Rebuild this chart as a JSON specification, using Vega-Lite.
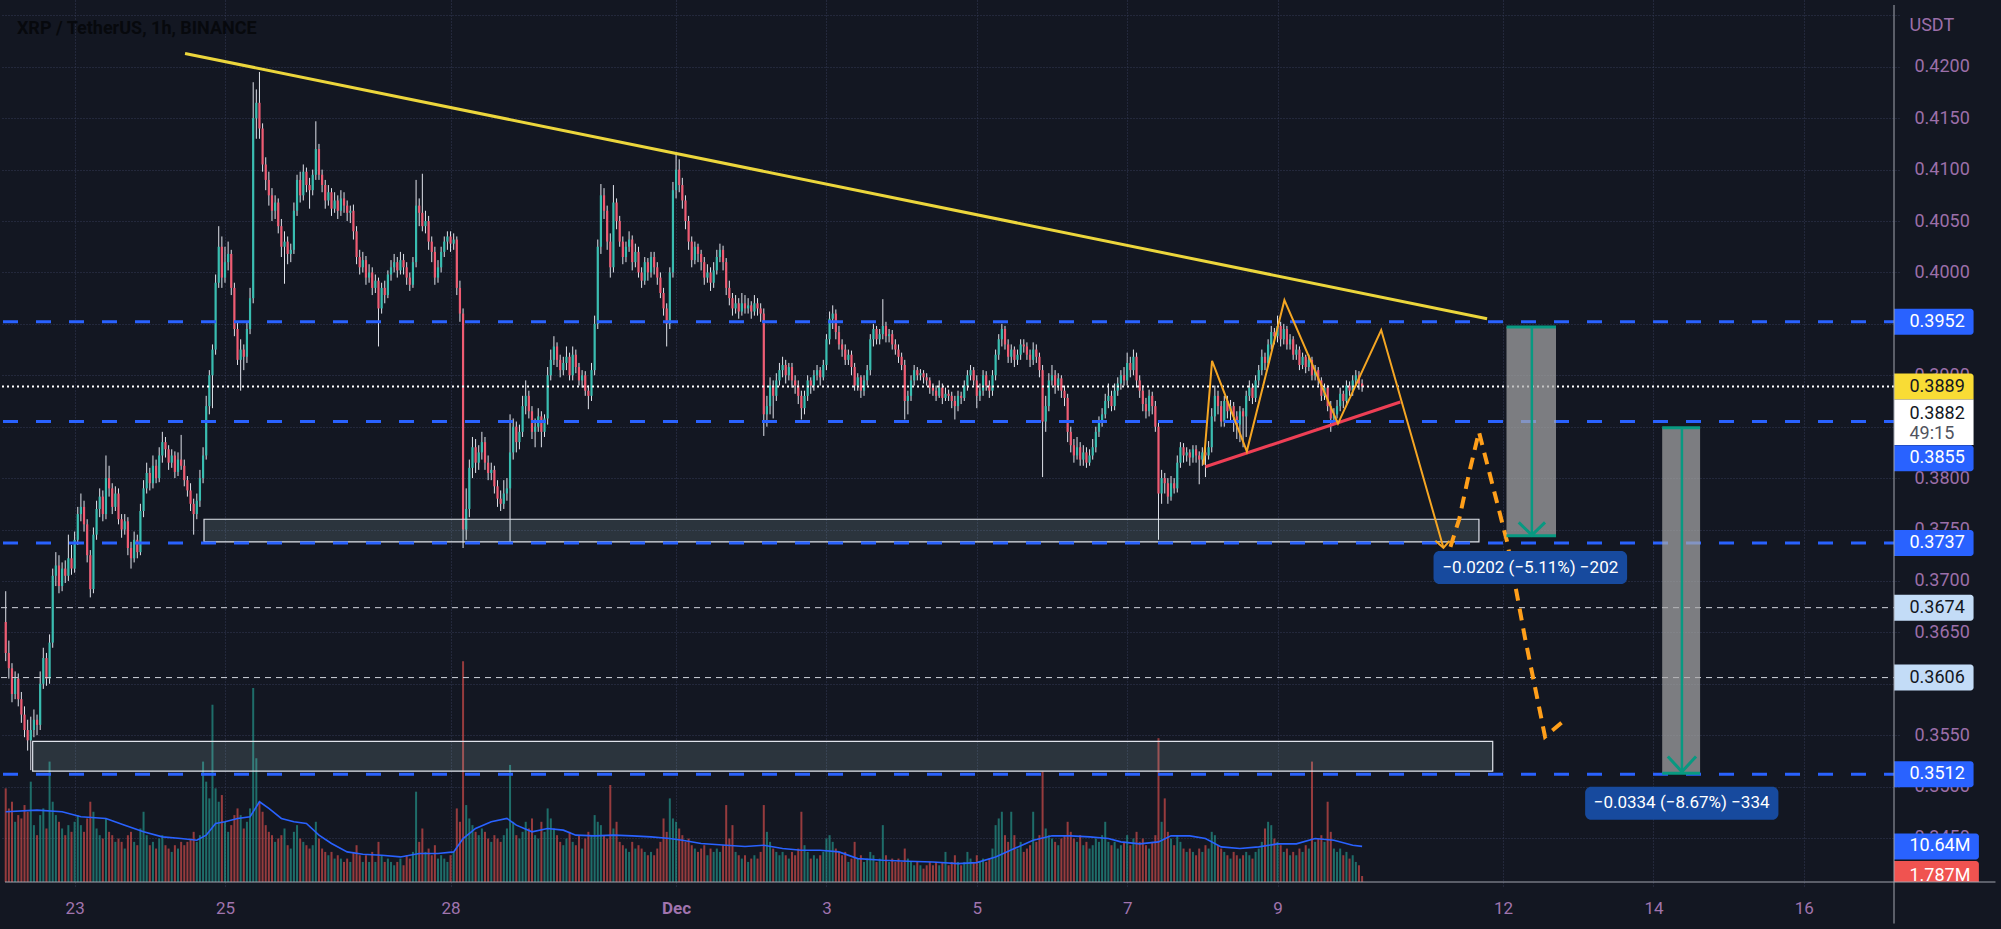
{
"$schema": "https://vega.github.io/schema/vega-lite/v6.json",
"width": 1899, "height": 887,
"autosize": {"type": "none"},
"padding": {"left": 0, "top": 0, "right": 102, "bottom": 42},
"background": "#131722",
"config": {"view": {"stroke": null}, "font": "Roboto"},
"datasets": {
"c": [
{"t":2,"o":3660,"h":3690,"l":3622,"c":3630,"v":28},{"t":3,"o":3630,"h":3642,"l":3605,"c":3615,"v":22},{"t":4,"o":3615,"h":3620,"l":3582,"c":3590,"v":24},{"t":5,"o":3590,"h":3612,"l":3585,"c":3605,"v":18},{"t":6,"o":3605,"h":3610,"l":3578,"c":3585,"v":20},{"t":7,"o":3585,"h":3592,"l":3562,"c":3570,"v":19},{"t":8,"o":3570,"h":3578,"l":3548,"c":3555,"v":23},{"t":9,"o":3555,"h":3565,"l":3535,"c":3545,"v":21},{"t":10,"o":3545,"h":3568,"l":3516,"c":3555,"v":30},{"t":11,"o":3555,"h":3575,"l":3548,"c":3565,"v":17},{"t":12,"o":3565,"h":3570,"l":3550,"c":3560,"v":14},{"t":13,"o":3560,"h":3612,"l":3555,"c":3600,"v":20},{"t":14,"o":3600,"h":3635,"l":3595,"c":3625,"v":22},{"t":15,"o":3625,"h":3630,"l":3598,"c":3605,"v":16},{"t":16,"o":3605,"h":3648,"l":3600,"c":3640,"v":36},{"t":17,"o":3640,"h":3712,"l":3635,"c":3705,"v":24},{"t":18,"o":3705,"h":3728,"l":3695,"c":3715,"v":20},{"t":19,"o":3715,"h":3725,"l":3688,"c":3695,"v":18},{"t":20,"o":3695,"h":3718,"l":3690,"c":3712,"v":16},{"t":21,"o":3712,"h":3720,"l":3698,"c":3705,"v":14},{"t":22,"o":3705,"h":3745,"l":3700,"c":3722,"v":17},{"t":23,"o":3722,"h":3735,"l":3706,"c":3712,"v":15},
{"t":24,"o":3712,"h":3748,"l":3708,"c":3740,"v":18},{"t":25,"o":3740,"h":3772,"l":3735,"c":3765,"v":20},{"t":26,"o":3765,"h":3785,"l":3758,"c":3772,"v":17},{"t":27,"o":3772,"h":3778,"l":3748,"c":3755,"v":15},{"t":28,"o":3755,"h":3760,"l":3718,"c":3725,"v":19},{"t":29,"o":3725,"h":3730,"l":3684,"c":3692,"v":24},{"t":30,"o":3692,"h":3752,"l":3688,"c":3745,"v":21},{"t":31,"o":3745,"h":3778,"l":3740,"c":3770,"v":16},{"t":32,"o":3770,"h":3790,"l":3762,"c":3782,"v":14},{"t":33,"o":3782,"h":3788,"l":3758,"c":3765,"v":13},{"t":34,"o":3765,"h":3822,"l":3760,"c":3800,"v":19},{"t":35,"o":3800,"h":3812,"l":3782,"c":3790,"v":15},{"t":36,"o":3790,"h":3795,"l":3765,"c":3772,"v":14},{"t":37,"o":3772,"h":3792,"l":3768,"c":3785,"v":12},{"t":38,"o":3785,"h":3790,"l":3755,"c":3760,"v":13},{"t":39,"o":3760,"h":3765,"l":3742,"c":3750,"v":12},{"t":40,"o":3750,"h":3765,"l":3745,"c":3758,"v":10},{"t":41,"o":3758,"h":3762,"l":3725,"c":3732,"v":14},{"t":42,"o":3732,"h":3738,"l":3712,"c":3722,"v":15},{"t":43,"o":3722,"h":3748,"l":3718,"c":3740,"v":12},{"t":44,"o":3740,"h":3745,"l":3722,"c":3728,"v":11},{"t":45,"o":3728,"h":3775,"l":3725,"c":3768,"v":16},{"t":46,"o":3768,"h":3798,"l":3762,"c":3790,"v":21},{"t":47,"o":3790,"h":3815,"l":3785,"c":3805,"v":14},
{"t":48,"o":3805,"h":3810,"l":3788,"c":3795,"v":11},{"t":49,"o":3795,"h":3822,"l":3790,"c":3812,"v":12},{"t":50,"o":3812,"h":3818,"l":3795,"c":3800,"v":10},{"t":51,"o":3800,"h":3830,"l":3796,"c":3822,"v":13},{"t":52,"o":3822,"h":3845,"l":3815,"c":3835,"v":14},{"t":53,"o":3835,"h":3840,"l":3820,"c":3828,"v":11},{"t":54,"o":3828,"h":3832,"l":3808,"c":3815,"v":10},{"t":55,"o":3815,"h":3828,"l":3810,"c":3822,"v":9},{"t":56,"o":3822,"h":3826,"l":3800,"c":3806,"v":11},{"t":57,"o":3806,"h":3825,"l":3802,"c":3818,"v":10},{"t":58,"o":3818,"h":3842,"l":3808,"c":3812,"v":12},{"t":59,"o":3812,"h":3818,"l":3792,"c":3798,"v":11},{"t":60,"o":3798,"h":3802,"l":3782,"c":3788,"v":12},{"t":61,"o":3788,"h":3795,"l":3768,"c":3775,"v":13},{"t":62,"o":3775,"h":3780,"l":3745,"c":3765,"v":15},{"t":63,"o":3765,"h":3785,"l":3760,"c":3778,"v":12},{"t":64,"o":3778,"h":3808,"l":3772,"c":3800,"v":14},{"t":65,"o":3800,"h":3830,"l":3795,"c":3822,"v":36},{"t":66,"o":3822,"h":3880,"l":3818,"c":3870,"v":30},{"t":67,"o":3870,"h":3905,"l":3862,"c":3900,"v":25},{"t":68,"o":3900,"h":3930,"l":3868,"c":3925,"v":53},{"t":69,"o":3925,"h":3998,"l":3920,"c":3990,"v":28},{"t":70,"o":3990,"h":4045,"l":3985,"c":4025,"v":24},{"t":71,"o":4025,"h":4035,"l":3985,"c":3995,"v":26},
{"t":72,"o":3995,"h":4025,"l":3990,"c":4010,"v":18},{"t":73,"o":4010,"h":4030,"l":4002,"c":4018,"v":15},{"t":74,"o":4018,"h":4022,"l":3978,"c":3985,"v":17},{"t":75,"o":3985,"h":3990,"l":3938,"c":3945,"v":20},{"t":76,"o":3945,"h":3952,"l":3910,"c":3915,"v":22},{"t":77,"o":3915,"h":3935,"l":3885,"c":3925,"v":20},{"t":78,"o":3925,"h":3930,"l":3905,"c":3918,"v":16},{"t":79,"o":3918,"h":3952,"l":3912,"c":3945,"v":18},{"t":80,"o":3945,"h":3985,"l":3940,"c":3975,"v":22},{"t":81,"o":3975,"h":4185,"l":3970,"c":4150,"v":58},{"t":82,"o":4150,"h":4178,"l":4130,"c":4165,"v":37},{"t":83,"o":4165,"h":4195,"l":4130,"c":4140,"v":24},{"t":84,"o":4140,"h":4145,"l":4098,"c":4105,"v":21},{"t":85,"o":4105,"h":4112,"l":4080,"c":4090,"v":17},{"t":86,"o":4090,"h":4098,"l":4065,"c":4075,"v":15},{"t":87,"o":4075,"h":4082,"l":4050,"c":4060,"v":14},{"t":88,"o":4060,"h":4075,"l":4052,"c":4068,"v":12},{"t":89,"o":4068,"h":4072,"l":4038,"c":4045,"v":13},{"t":90,"o":4045,"h":4052,"l":4015,"c":4025,"v":14},{"t":91,"o":4025,"h":4040,"l":3989,"c":4030,"v":16},{"t":92,"o":4030,"h":4035,"l":4008,"c":4018,"v":11},{"t":93,"o":4018,"h":4028,"l":4010,"c":4022,"v":10},{"t":94,"o":4022,"h":4068,"l":4018,"c":4060,"v":15},{"t":95,"o":4060,"h":4095,"l":4055,"c":4090,"v":17},
{"t":96,"o":4090,"h":4098,"l":4068,"c":4075,"v":13},{"t":97,"o":4075,"h":4105,"l":4070,"c":4098,"v":12},{"t":98,"o":4098,"h":4102,"l":4078,"c":4085,"v":11},{"t":99,"o":4085,"h":4092,"l":4062,"c":4080,"v":10},{"t":100,"o":4080,"h":4100,"l":4075,"c":4095,"v":11},{"t":101,"o":4095,"h":4147,"l":4090,"c":4120,"v":18},{"t":102,"o":4120,"h":4125,"l":4090,"c":4095,"v":13},{"t":103,"o":4095,"h":4100,"l":4078,"c":4085,"v":10},{"t":104,"o":4085,"h":4090,"l":4062,"c":4070,"v":9},{"t":105,"o":4070,"h":4085,"l":4065,"c":4078,"v":8},{"t":106,"o":4078,"h":4082,"l":4055,"c":4062,"v":9},{"t":107,"o":4062,"h":4078,"l":4058,"c":4070,"v":7},{"t":108,"o":4070,"h":4075,"l":4052,"c":4060,"v":8},{"t":109,"o":4060,"h":4080,"l":4055,"c":4072,"v":7},{"t":110,"o":4072,"h":4078,"l":4058,"c":4065,"v":6},{"t":111,"o":4065,"h":4070,"l":4050,"c":4058,"v":7},{"t":112,"o":4058,"h":4065,"l":4048,"c":4060,"v":6},{"t":113,"o":4060,"h":4066,"l":4032,"c":4040,"v":9},{"t":114,"o":4040,"h":4045,"l":4008,"c":4015,"v":11},{"t":115,"o":4015,"h":4022,"l":3998,"c":4005,"v":8},{"t":116,"o":4005,"h":4020,"l":4000,"c":4012,"v":6},{"t":117,"o":4012,"h":4016,"l":3988,"c":3995,"v":8},{"t":118,"o":3995,"h":4008,"l":3990,"c":4000,"v":6},{"t":119,"o":4000,"h":4005,"l":3978,"c":3985,"v":9},
{"t":120,"o":3985,"h":3998,"l":3980,"c":3992,"v":6},{"t":121,"o":3992,"h":3995,"l":3928,"c":3965,"v":12},{"t":122,"o":3965,"h":3990,"l":3960,"c":3985,"v":8},{"t":123,"o":3985,"h":3992,"l":3970,"c":3978,"v":6},{"t":124,"o":3978,"h":4002,"l":3975,"c":3998,"v":7},{"t":125,"o":3998,"h":4012,"l":3992,"c":4005,"v":6},{"t":126,"o":4005,"h":4018,"l":4000,"c":4010,"v":5},{"t":127,"o":4010,"h":4015,"l":3995,"c":4002,"v":6},{"t":128,"o":4002,"h":4020,"l":3998,"c":4012,"v":7},{"t":129,"o":4012,"h":4018,"l":3998,"c":4005,"v":5},{"t":130,"o":4005,"h":4010,"l":3988,"c":3995,"v":8},{"t":131,"o":3995,"h":4000,"l":3982,"c":3988,"v":7},{"t":132,"o":3988,"h":4015,"l":3985,"c":4010,"v":9},{"t":133,"o":4010,"h":4090,"l":4005,"c":4065,"v":27},{"t":134,"o":4065,"h":4072,"l":4045,"c":4058,"v":12},{"t":135,"o":4058,"h":4096,"l":4040,"c":4045,"v":16},{"t":136,"o":4045,"h":4060,"l":4038,"c":4050,"v":9},{"t":137,"o":4050,"h":4055,"l":4022,"c":4030,"v":10},{"t":138,"o":4030,"h":4035,"l":4010,"c":4020,"v":8},{"t":139,"o":4020,"h":4025,"l":3988,"c":3995,"v":11},{"t":140,"o":3995,"h":4012,"l":3990,"c":4005,"v":7},{"t":141,"o":4005,"h":4025,"l":4000,"c":4020,"v":8},{"t":142,"o":4020,"h":4035,"l":4015,"c":4030,"v":7},{"t":143,"o":4030,"h":4040,"l":4022,"c":4035,"v":6},
{"t":144,"o":4035,"h":4040,"l":4020,"c":4028,"v":8},{"t":145,"o":4028,"h":4038,"l":4022,"c":4032,"v":9},{"t":146,"o":4032,"h":4035,"l":3978,"c":3985,"v":22},{"t":147,"o":3985,"h":3992,"l":3952,"c":3960,"v":18},{"t":148,"o":3960,"h":3965,"l":3732,"c":3750,"v":66},{"t":149,"o":3750,"h":3790,"l":3740,"c":3770,"v":23},{"t":150,"o":3770,"h":3818,"l":3762,"c":3810,"v":19},{"t":151,"o":3810,"h":3840,"l":3800,"c":3830,"v":17},{"t":152,"o":3830,"h":3838,"l":3805,"c":3815,"v":15},{"t":153,"o":3815,"h":3832,"l":3808,"c":3825,"v":14},{"t":154,"o":3825,"h":3845,"l":3818,"c":3835,"v":16},{"t":155,"o":3835,"h":3840,"l":3808,"c":3815,"v":15},{"t":156,"o":3815,"h":3822,"l":3798,"c":3805,"v":13},{"t":157,"o":3805,"h":3815,"l":3798,"c":3808,"v":12},{"t":158,"o":3808,"h":3812,"l":3785,"c":3792,"v":14},{"t":159,"o":3792,"h":3798,"l":3772,"c":3780,"v":13},{"t":160,"o":3780,"h":3788,"l":3768,"c":3775,"v":12},{"t":161,"o":3775,"h":3798,"l":3770,"c":3785,"v":14},{"t":162,"o":3785,"h":3800,"l":3778,"c":3790,"v":16},{"t":163,"o":3790,"h":3862,"l":3737,"c":3825,"v":35},{"t":164,"o":3825,"h":3858,"l":3818,"c":3850,"v":18},{"t":165,"o":3850,"h":3855,"l":3825,"c":3835,"v":14},{"t":166,"o":3835,"h":3852,"l":3828,"c":3845,"v":13},{"t":167,"o":3845,"h":3880,"l":3840,"c":3870,"v":15},
{"t":168,"o":3870,"h":3895,"l":3862,"c":3880,"v":18},{"t":169,"o":3880,"h":3885,"l":3858,"c":3865,"v":16},{"t":170,"o":3865,"h":3870,"l":3838,"c":3845,"v":19},{"t":171,"o":3845,"h":3858,"l":3830,"c":3850,"v":14},{"t":172,"o":3850,"h":3868,"l":3845,"c":3860,"v":13},{"t":173,"o":3860,"h":3865,"l":3830,"c":3845,"v":18},{"t":174,"o":3845,"h":3862,"l":3840,"c":3858,"v":15},{"t":175,"o":3858,"h":3908,"l":3852,"c":3900,"v":22},{"t":176,"o":3900,"h":3925,"l":3895,"c":3915,"v":19},{"t":177,"o":3915,"h":3938,"l":3910,"c":3928,"v":16},{"t":178,"o":3928,"h":3932,"l":3908,"c":3915,"v":14},{"t":179,"o":3915,"h":3920,"l":3898,"c":3905,"v":12},{"t":180,"o":3905,"h":3918,"l":3900,"c":3912,"v":11},{"t":181,"o":3912,"h":3928,"l":3905,"c":3918,"v":13},{"t":182,"o":3918,"h":3922,"l":3895,"c":3900,"v":15},{"t":183,"o":3900,"h":3928,"l":3895,"c":3920,"v":12},{"t":184,"o":3920,"h":3925,"l":3902,"c":3908,"v":11},{"t":185,"o":3908,"h":3912,"l":3890,"c":3895,"v":14},{"t":186,"o":3895,"h":3905,"l":3888,"c":3900,"v":10},{"t":187,"o":3900,"h":3904,"l":3880,"c":3885,"v":13},{"t":188,"o":3885,"h":3890,"l":3867,"c":3880,"v":15},{"t":189,"o":3880,"h":3912,"l":3875,"c":3905,"v":14},{"t":190,"o":3905,"h":3958,"l":3900,"c":3950,"v":20},{"t":191,"o":3950,"h":4032,"l":3945,"c":4025,"v":18},
{"t":192,"o":4025,"h":4086,"l":4018,"c":4075,"v":17},{"t":193,"o":4075,"h":4082,"l":4052,"c":4060,"v":14},{"t":194,"o":4060,"h":4065,"l":4022,"c":4030,"v":13},{"t":195,"o":4030,"h":4038,"l":3995,"c":4005,"v":29},{"t":196,"o":4005,"h":4085,"l":4000,"c":4068,"v":16},{"t":197,"o":4068,"h":4072,"l":4042,"c":4050,"v":18},{"t":198,"o":4050,"h":4055,"l":4025,"c":4030,"v":12},{"t":199,"o":4030,"h":4035,"l":4008,"c":4015,"v":11},{"t":200,"o":4015,"h":4030,"l":4010,"c":4025,"v":10},{"t":201,"o":4025,"h":4040,"l":4020,"c":4032,"v":9},{"t":202,"o":4032,"h":4036,"l":4002,"c":4010,"v":12},{"t":203,"o":4010,"h":4028,"l":4005,"c":4020,"v":10},{"t":204,"o":4020,"h":4025,"l":3995,"c":4000,"v":11},{"t":205,"o":4000,"h":4005,"l":3985,"c":3992,"v":10},{"t":206,"o":3992,"h":4015,"l":3988,"c":4010,"v":9},{"t":207,"o":4010,"h":4014,"l":3992,"c":4000,"v":8},{"t":208,"o":4000,"h":4020,"l":3995,"c":4015,"v":9},{"t":209,"o":4015,"h":4020,"l":3998,"c":4005,"v":8},{"t":210,"o":4005,"h":4010,"l":3988,"c":3995,"v":10},{"t":211,"o":3995,"h":4000,"l":3975,"c":3980,"v":12},{"t":212,"o":3980,"h":3985,"l":3958,"c":3965,"v":19},{"t":213,"o":3965,"h":3970,"l":3928,"c":3950,"v":15},{"t":214,"o":3950,"h":4005,"l":3945,"c":4000,"v":25},{"t":215,"o":4000,"h":4088,"l":3995,"c":4080,"v":19},
{"t":216,"o":4080,"h":4117,"l":4072,"c":4100,"v":18},{"t":217,"o":4100,"h":4110,"l":4078,"c":4085,"v":16},{"t":218,"o":4085,"h":4092,"l":4062,"c":4070,"v":14},{"t":219,"o":4070,"h":4075,"l":4042,"c":4050,"v":12},{"t":220,"o":4050,"h":4055,"l":4022,"c":4030,"v":13},{"t":221,"o":4030,"h":4035,"l":4005,"c":4012,"v":11},{"t":222,"o":4012,"h":4030,"l":4008,"c":4025,"v":10},{"t":223,"o":4025,"h":4028,"l":4010,"c":4018,"v":9},{"t":224,"o":4018,"h":4022,"l":4002,"c":4010,"v":10},{"t":225,"o":4010,"h":4015,"l":3988,"c":3995,"v":11},{"t":226,"o":3995,"h":4008,"l":3990,"c":4000,"v":8},{"t":227,"o":4000,"h":4005,"l":3982,"c":3990,"v":10},{"t":228,"o":3990,"h":4010,"l":3985,"c":4002,"v":9},{"t":229,"o":4002,"h":4022,"l":3998,"c":4015,"v":10},{"t":230,"o":4015,"h":4028,"l":4010,"c":4022,"v":9},{"t":231,"o":4022,"h":4026,"l":4002,"c":4010,"v":11},{"t":232,"o":4010,"h":4014,"l":3978,"c":3985,"v":23},{"t":233,"o":3985,"h":3992,"l":3968,"c":3975,"v":13},{"t":234,"o":3975,"h":3980,"l":3958,"c":3965,"v":17},{"t":235,"o":3965,"h":3978,"l":3960,"c":3970,"v":9},{"t":236,"o":3970,"h":3975,"l":3955,"c":3962,"v":8},{"t":237,"o":3962,"h":3980,"l":3958,"c":3970,"v":7},{"t":238,"o":3970,"h":3978,"l":3960,"c":3965,"v":8},{"t":239,"o":3965,"h":3975,"l":3960,"c":3968,"v":6},
{"t":240,"o":3968,"h":3972,"l":3955,"c":3962,"v":7},{"t":241,"o":3962,"h":3978,"l":3958,"c":3970,"v":8},{"t":242,"o":3970,"h":3975,"l":3958,"c":3965,"v":7},{"t":243,"o":3965,"h":3970,"l":3952,"c":3960,"v":9},{"t":244,"o":3960,"h":3965,"l":3841,"c":3862,"v":23},{"t":245,"o":3862,"h":3880,"l":3850,"c":3870,"v":15},{"t":246,"o":3870,"h":3898,"l":3862,"c":3890,"v":12},{"t":247,"o":3890,"h":3895,"l":3858,"c":3880,"v":10},{"t":248,"o":3880,"h":3902,"l":3875,"c":3895,"v":9},{"t":249,"o":3895,"h":3912,"l":3890,"c":3905,"v":8},{"t":250,"o":3905,"h":3918,"l":3898,"c":3910,"v":9},{"t":251,"o":3910,"h":3915,"l":3892,"c":3900,"v":8},{"t":252,"o":3900,"h":3912,"l":3895,"c":3908,"v":7},{"t":253,"o":3908,"h":3912,"l":3888,"c":3895,"v":9},{"t":254,"o":3895,"h":3900,"l":3882,"c":3890,"v":8},{"t":255,"o":3890,"h":3895,"l":3872,"c":3880,"v":10},{"t":256,"o":3880,"h":3885,"l":3857,"c":3868,"v":21},{"t":257,"o":3868,"h":3885,"l":3862,"c":3880,"v":11},{"t":258,"o":3880,"h":3900,"l":3875,"c":3895,"v":9},{"t":259,"o":3895,"h":3898,"l":3882,"c":3890,"v":7},{"t":260,"o":3890,"h":3905,"l":3885,"c":3900,"v":8},{"t":261,"o":3900,"h":3910,"l":3895,"c":3905,"v":7},{"t":262,"o":3905,"h":3908,"l":3890,"c":3898,"v":8},{"t":263,"o":3898,"h":3915,"l":3895,"c":3910,"v":9},
{"t":264,"o":3910,"h":3940,"l":3905,"c":3935,"v":13},{"t":265,"o":3935,"h":3962,"l":3930,"c":3955,"v":14},{"t":266,"o":3955,"h":3968,"l":3945,"c":3960,"v":12},{"t":267,"o":3960,"h":3964,"l":3935,"c":3942,"v":10},{"t":268,"o":3942,"h":3948,"l":3925,"c":3930,"v":9},{"t":269,"o":3930,"h":3935,"l":3918,"c":3925,"v":8},{"t":270,"o":3925,"h":3930,"l":3910,"c":3915,"v":9},{"t":271,"o":3915,"h":3925,"l":3910,"c":3920,"v":6},{"t":272,"o":3920,"h":3924,"l":3900,"c":3908,"v":7},{"t":273,"o":3908,"h":3912,"l":3885,"c":3890,"v":12},{"t":274,"o":3890,"h":3902,"l":3885,"c":3898,"v":7},{"t":275,"o":3898,"h":3900,"l":3878,"c":3885,"v":8},{"t":276,"o":3885,"h":3900,"l":3880,"c":3895,"v":6},{"t":277,"o":3895,"h":3910,"l":3890,"c":3905,"v":7},{"t":278,"o":3905,"h":3940,"l":3900,"c":3935,"v":9},{"t":279,"o":3935,"h":3950,"l":3928,"c":3945,"v":8},{"t":280,"o":3945,"h":3948,"l":3930,"c":3935,"v":6},{"t":281,"o":3935,"h":3945,"l":3930,"c":3940,"v":7},{"t":282,"o":3940,"h":3974,"l":3935,"c":3948,"v":17},{"t":283,"o":3948,"h":3952,"l":3932,"c":3938,"v":8},{"t":284,"o":3938,"h":3945,"l":3932,"c":3940,"v":6},{"t":285,"o":3940,"h":3944,"l":3925,"c":3930,"v":7},{"t":286,"o":3930,"h":3935,"l":3920,"c":3925,"v":6},{"t":287,"o":3925,"h":3930,"l":3912,"c":3918,"v":7},
{"t":288,"o":3918,"h":3922,"l":3905,"c":3910,"v":6},{"t":289,"o":3910,"h":3915,"l":3857,"c":3875,"v":10},{"t":290,"o":3875,"h":3885,"l":3862,"c":3880,"v":7},{"t":291,"o":3880,"h":3900,"l":3875,"c":3895,"v":6},{"t":292,"o":3895,"h":3910,"l":3890,"c":3905,"v":5},{"t":293,"o":3905,"h":3908,"l":3895,"c":3900,"v":6},{"t":294,"o":3900,"h":3906,"l":3895,"c":3902,"v":5},{"t":295,"o":3902,"h":3905,"l":3892,"c":3898,"v":4},{"t":296,"o":3898,"h":3902,"l":3890,"c":3895,"v":5},{"t":297,"o":3895,"h":3898,"l":3882,"c":3888,"v":6},{"t":298,"o":3888,"h":3892,"l":3880,"c":3885,"v":5},{"t":299,"o":3885,"h":3890,"l":3875,"c":3880,"v":6},{"t":300,"o":3880,"h":3895,"l":3878,"c":3888,"v":5},{"t":301,"o":3888,"h":3892,"l":3872,"c":3878,"v":6},{"t":302,"o":3878,"h":3888,"l":3875,"c":3882,"v":9},{"t":303,"o":3882,"h":3886,"l":3875,"c":3880,"v":5},{"t":304,"o":3880,"h":3884,"l":3868,"c":3875,"v":6},{"t":305,"o":3875,"h":3880,"l":3857,"c":3870,"v":8},{"t":306,"o":3870,"h":3885,"l":3865,"c":3880,"v":6},{"t":307,"o":3880,"h":3884,"l":3872,"c":3878,"v":5},{"t":308,"o":3878,"h":3895,"l":3875,"c":3890,"v":6},{"t":309,"o":3890,"h":3905,"l":3885,"c":3900,"v":9},{"t":310,"o":3900,"h":3910,"l":3895,"c":3905,"v":7},{"t":311,"o":3905,"h":3908,"l":3890,"c":3895,"v":6},
{"t":312,"o":3895,"h":3900,"l":3868,"c":3880,"v":8},{"t":313,"o":3880,"h":3892,"l":3875,"c":3885,"v":6},{"t":314,"o":3885,"h":3905,"l":3880,"c":3900,"v":7},{"t":315,"o":3900,"h":3904,"l":3885,"c":3890,"v":6},{"t":316,"o":3890,"h":3895,"l":3878,"c":3885,"v":7},{"t":317,"o":3885,"h":3905,"l":3880,"c":3900,"v":10},{"t":318,"o":3900,"h":3925,"l":3895,"c":3920,"v":17},{"t":319,"o":3920,"h":3940,"l":3915,"c":3935,"v":19},{"t":320,"o":3935,"h":3950,"l":3928,"c":3945,"v":21},{"t":321,"o":3945,"h":3948,"l":3925,"c":3930,"v":14},{"t":322,"o":3930,"h":3935,"l":3912,"c":3918,"v":12},{"t":323,"o":3918,"h":3930,"l":3912,"c":3925,"v":21},{"t":324,"o":3925,"h":3928,"l":3908,"c":3915,"v":14},{"t":325,"o":3915,"h":3925,"l":3910,"c":3920,"v":10},{"t":326,"o":3920,"h":3935,"l":3915,"c":3930,"v":12},{"t":327,"o":3930,"h":3935,"l":3922,"c":3928,"v":9},{"t":328,"o":3928,"h":3932,"l":3915,"c":3920,"v":10},{"t":329,"o":3920,"h":3925,"l":3908,"c":3915,"v":11},{"t":330,"o":3915,"h":3932,"l":3910,"c":3925,"v":21},{"t":331,"o":3925,"h":3930,"l":3912,"c":3918,"v":12},{"t":332,"o":3918,"h":3922,"l":3898,"c":3905,"v":14},{"t":333,"o":3905,"h":3910,"l":3801,"c":3855,"v":33},{"t":334,"o":3855,"h":3880,"l":3845,"c":3870,"v":16},{"t":335,"o":3870,"h":3902,"l":3865,"c":3895,"v":14},
{"t":336,"o":3895,"h":3910,"l":3890,"c":3900,"v":13},{"t":337,"o":3900,"h":3905,"l":3882,"c":3890,"v":12},{"t":338,"o":3890,"h":3902,"l":3885,"c":3897,"v":11},{"t":339,"o":3897,"h":3900,"l":3878,"c":3885,"v":13},{"t":340,"o":3885,"h":3890,"l":3870,"c":3878,"v":14},{"t":341,"o":3878,"h":3882,"l":3835,"c":3845,"v":18},{"t":342,"o":3845,"h":3850,"l":3825,"c":3832,"v":15},{"t":343,"o":3832,"h":3838,"l":3815,"c":3822,"v":13},{"t":344,"o":3822,"h":3840,"l":3818,"c":3830,"v":12},{"t":345,"o":3830,"h":3835,"l":3812,"c":3818,"v":14},{"t":346,"o":3818,"h":3832,"l":3812,"c":3825,"v":11},{"t":347,"o":3825,"h":3830,"l":3810,"c":3815,"v":12},{"t":348,"o":3815,"h":3828,"l":3812,"c":3822,"v":10},{"t":349,"o":3822,"h":3838,"l":3818,"c":3830,"v":11},{"t":350,"o":3830,"h":3850,"l":3825,"c":3845,"v":13},{"t":351,"o":3845,"h":3860,"l":3840,"c":3855,"v":12},{"t":352,"o":3855,"h":3868,"l":3850,"c":3862,"v":14},{"t":353,"o":3862,"h":3882,"l":3858,"c":3875,"v":18},{"t":354,"o":3875,"h":3892,"l":3868,"c":3880,"v":12},{"t":355,"o":3880,"h":3885,"l":3865,"c":3870,"v":11},{"t":356,"o":3870,"h":3892,"l":3866,"c":3885,"v":12},{"t":357,"o":3885,"h":3898,"l":3880,"c":3892,"v":10},{"t":358,"o":3892,"h":3905,"l":3886,"c":3900,"v":11},{"t":359,"o":3900,"h":3908,"l":3890,"c":3895,"v":12},
{"t":360,"o":3895,"h":3922,"l":3890,"c":3912,"v":14},{"t":361,"o":3912,"h":3918,"l":3898,"c":3905,"v":11},{"t":362,"o":3905,"h":3925,"l":3900,"c":3918,"v":13},{"t":363,"o":3918,"h":3922,"l":3888,"c":3895,"v":15},{"t":364,"o":3895,"h":3900,"l":3878,"c":3885,"v":12},{"t":365,"o":3885,"h":3890,"l":3865,"c":3872,"v":13},{"t":366,"o":3872,"h":3878,"l":3858,"c":3865,"v":11},{"t":367,"o":3865,"h":3886,"l":3860,"c":3880,"v":10},{"t":368,"o":3880,"h":3884,"l":3862,"c":3870,"v":12},{"t":369,"o":3870,"h":3875,"l":3845,"c":3850,"v":14},{"t":370,"o":3850,"h":3856,"l":3740,"c":3785,"v":43},{"t":371,"o":3785,"h":3808,"l":3775,"c":3800,"v":18},{"t":372,"o":3800,"h":3805,"l":3785,"c":3795,"v":25},{"t":373,"o":3795,"h":3800,"l":3775,"c":3782,"v":15},{"t":374,"o":3782,"h":3802,"l":3778,"c":3795,"v":13},{"t":375,"o":3795,"h":3800,"l":3785,"c":3790,"v":11},{"t":376,"o":3790,"h":3822,"l":3786,"c":3815,"v":14},{"t":377,"o":3815,"h":3835,"l":3810,"c":3830,"v":12},{"t":378,"o":3830,"h":3834,"l":3815,"c":3822,"v":10},{"t":379,"o":3822,"h":3830,"l":3816,"c":3825,"v":9},{"t":380,"o":3825,"h":3828,"l":3812,"c":3820,"v":10},{"t":381,"o":3820,"h":3832,"l":3815,"c":3828,"v":9},{"t":382,"o":3828,"h":3832,"l":3815,"c":3822,"v":8},{"t":383,"o":3822,"h":3826,"l":3794,"c":3818,"v":10},
{"t":384,"o":3818,"h":3830,"l":3812,"c":3825,"v":9},{"t":385,"o":3825,"h":3830,"l":3801,"c":3822,"v":11},{"t":386,"o":3822,"h":3836,"l":3818,"c":3830,"v":10},{"t":387,"o":3830,"h":3868,"l":3825,"c":3860,"v":15},{"t":388,"o":3860,"h":3890,"l":3855,"c":3880,"v":14},{"t":389,"o":3880,"h":3885,"l":3862,"c":3870,"v":11},{"t":390,"o":3870,"h":3875,"l":3850,"c":3855,"v":10},{"t":391,"o":3855,"h":3880,"l":3850,"c":3875,"v":9},{"t":392,"o":3875,"h":3880,"l":3858,"c":3865,"v":8},{"t":393,"o":3865,"h":3876,"l":3855,"c":3870,"v":7},{"t":394,"o":3870,"h":3874,"l":3845,"c":3860,"v":9},{"t":395,"o":3860,"h":3865,"l":3838,"c":3852,"v":8},{"t":396,"o":3852,"h":3870,"l":3835,"c":3865,"v":7},{"t":397,"o":3865,"h":3868,"l":3830,"c":3860,"v":8},{"t":398,"o":3860,"h":3885,"l":3840,"c":3880,"v":9},{"t":399,"o":3880,"h":3895,"l":3875,"c":3888,"v":8},{"t":400,"o":3888,"h":3892,"l":3872,"c":3878,"v":7},{"t":401,"o":3878,"h":3900,"l":3874,"c":3895,"v":9},{"t":402,"o":3895,"h":3910,"l":3890,"c":3905,"v":10},{"t":403,"o":3905,"h":3925,"l":3900,"c":3918,"v":12},{"t":404,"o":3918,"h":3922,"l":3905,"c":3912,"v":16},{"t":405,"o":3912,"h":3935,"l":3908,"c":3930,"v":18},{"t":406,"o":3930,"h":3948,"l":3925,"c":3942,"v":17},{"t":407,"o":3942,"h":3946,"l":3930,"c":3938,"v":13},
{"t":408,"o":3938,"h":3958,"l":3932,"c":3948,"v":12},{"t":409,"o":3948,"h":3952,"l":3928,"c":3935,"v":11},{"t":410,"o":3935,"h":3950,"l":3930,"c":3945,"v":9},{"t":411,"o":3945,"h":3948,"l":3925,"c":3930,"v":10},{"t":412,"o":3930,"h":3940,"l":3925,"c":3935,"v":8},{"t":413,"o":3935,"h":3938,"l":3915,"c":3920,"v":9},{"t":414,"o":3920,"h":3930,"l":3915,"c":3925,"v":8},{"t":415,"o":3925,"h":3928,"l":3905,"c":3910,"v":10},{"t":416,"o":3910,"h":3922,"l":3906,"c":3918,"v":9},{"t":417,"o":3918,"h":3920,"l":3902,"c":3908,"v":11},{"t":418,"o":3908,"h":3920,"l":3904,"c":3915,"v":10},{"t":419,"o":3915,"h":3918,"l":3895,"c":3900,"v":36},{"t":420,"o":3900,"h":3910,"l":3895,"c":3905,"v":12},{"t":421,"o":3905,"h":3908,"l":3890,"c":3895,"v":13},{"t":422,"o":3895,"h":3898,"l":3875,"c":3880,"v":14},{"t":423,"o":3880,"h":3892,"l":3876,"c":3888,"v":12},{"t":424,"o":3888,"h":3890,"l":3865,"c":3870,"v":24},{"t":425,"o":3870,"h":3875,"l":3845,"c":3858,"v":15},{"t":426,"o":3858,"h":3868,"l":3852,"c":3862,"v":10},{"t":427,"o":3862,"h":3876,"l":3858,"c":3870,"v":9},{"t":428,"o":3870,"h":3888,"l":3865,"c":3882,"v":10},{"t":429,"o":3882,"h":3885,"l":3868,"c":3875,"v":8},{"t":430,"o":3875,"h":3895,"l":3870,"c":3890,"v":9},{"t":431,"o":3890,"h":3894,"l":3880,"c":3885,"v":7},
{"t":432,"o":3885,"h":3900,"l":3880,"c":3895,"v":8},{"t":433,"o":3895,"h":3905,"l":3890,"c":3900,"v":6},{"t":434,"o":3900,"h":3904,"l":3886,"c":3892,"v":5},{"t":435,"o":3892,"h":3896,"l":3884,"c":3889,"v":1.787}
],
"ma": [{"t":2,"m":21},{"t":12,"m":21.5},{"t":20,"m":21},{"t":26,"m":19.5},{"t":34,"m":19},{"t":40,"m":17},{"t":46,"m":15},{"t":52,"m":13.5},{"t":58,"m":13},{"t":63,"m":12.5},{"t":66,"m":14},{"t":69,"m":17.5},{"t":72,"m":18},{"t":76,"m":19},{"t":80,"m":19.5},{"t":83,"m":24},{"t":86,"m":22},{"t":90,"m":19},{"t":94,"m":18},{"t":98,"m":17.5},{"t":102,"m":14},{"t":106,"m":11.5},{"t":111,"m":9},{"t":116,"m":8.3},{"t":122,"m":8},{"t":128,"m":7.5},{"t":134,"m":8.5},{"t":140,"m":8.5},{"t":145,"m":9},{"t":148,"m":13},{"t":152,"m":16},{"t":157,"m":18},{"t":162,"m":19},{"t":165,"m":17},{"t":170,"m":15},{"t":175,"m":16},{"t":180,"m":15.5},{"t":184,"m":14},{"t":190,"m":13.8},{"t":196,"m":14},{"t":202,"m":13.8},{"t":208,"m":13.5},{"t":214,"m":13},{"t":218,"m":12.5},{"t":224,"m":11.5},{"t":232,"m":11},{"t":238,"m":10.6},{"t":244,"m":11},{"t":250,"m":10},{"t":256,"m":9.5},{"t":262,"m":9.5},{"t":268,"m":9},{"t":274,"m":7},{"t":282,"m":6.5},{"t":290,"m":6.2},{"t":298,"m":6},{"t":306,"m":5.5},{"t":312,"m":5.8},{"t":318,"m":7.5},{"t":324,"m":10},{"t":330,"m":12.5},{"t":336,"m":13.8},{"t":342,"m":13.8},{"t":348,"m":13.5},{"t":354,"m":13},{"t":358,"m":12},{"t":364,"m":11.4},{"t":370,"m":12},{"t":374,"m":13.8},{"t":380,"m":13.8},{"t":385,"m":13},{"t":390,"m":10.5},{"t":396,"m":10},{"t":402,"m":10.5},{"t":408,"m":11.4},{"t":414,"m":11.4},{"t":420,"m":13},{"t":426,"m":12.5},{"t":432,"m":11},{"t":435,"m":10.64}]
},
"resolve": {"scale": {"y": "independent"}},
"layer": [
{
"layer": [
{"data": {"name": "c"}, "mark": {"type": "bar", "orient": "vertical", "width": 2, "opacity": 0.6},
 "encoding": {
  "x": {"field": "t", "type": "quantitative", "title": null, "scale": {"domain": [1.77, 604.8], "nice": false, "zero": false}},
  "y": {"field": "v", "type": "quantitative", "title": null, "axis": null, "scale": {"domain": [0, 262.2], "nice": false, "zero": true}},
  "color": {"condition": {"test": "datum.c >= datum.o", "value": "#26a69a"}, "value": "#ef5350"}}},
{"data": {"name": "ma"}, "mark": {"type": "line", "color": "#2962ff", "strokeWidth": 1.6},
 "encoding": {"x": {"field": "t", "type": "quantitative", "title": null}, "y": {"field": "m", "type": "quantitative", "title": null, "axis": null}}},
{"data": {"values": [{"m": 10.64, "lab": "10.64M"}]}, "mark": {"type": "bar", "orient": "horizontal", "height": 26, "color": "#2962ff", "cornerRadiusTopRight": 3, "cornerRadiusBottomRight": 3},
 "encoding": {"x": {"datum": 604.8}, "x2": {"datum": 631.9}, "y": {"field": "m", "type": "quantitative", "title": null, "axis": null}}},
{"data": {"values": [{"m": 1.787, "lab": "1.787M"}]}, "mark": {"type": "bar", "orient": "horizontal", "height": 21, "yOffset": -4.5, "color": "#f05350", "cornerRadiusTopRight": 3},
 "encoding": {"x": {"datum": 604.8}, "x2": {"datum": 631.9}, "y": {"field": "m", "type": "quantitative", "title": null, "axis": null}}},
{"data": {"values": [{"m": 10.64, "lab": "10.64M"}, {"m": 1.787, "lab": "1.787M"}]}, "mark": {"type": "text", "align": "left", "baseline": "middle", "fontSize": 18, "color": "#ffffff", "font": "Roboto"},
 "encoding": {"x": {"datum": 609.75}, "y": {"field": "m", "type": "quantitative", "title": null, "axis": null}, "yOffset": {"condition": {"test": "datum.m < 5", "value": -4}, "value": 0}, "text": {"field": "lab"}}}
]
},
{
"layer": [
{"data": {"name": "c"}, "mark": {"type": "rule", "color": "#dfe2ea", "strokeWidth": 1},
 "encoding": {
  "x": {"field": "t", "type": "quantitative", "title": null, "axis": {"values": [24,72,144,216,264,312,360,408,480,528,576], "labelExpr": "datum.value == 216 ? 'Dec' : (datum.value < 216 ? '' + (22 + datum.value/24) : '' + (datum.value/24 - 8))", "grid": true, "gridColor": "#343a55", "gridDash": [1,2], "gridWidth": 1, "domain": false, "ticks": false, "labelPadding": 13, "labelFontSize": 17, "labelColor": "#a074ae", "labelFont": "Roboto", "labelFlush": false, "labelOverlap": false, "labelFontWeight": {"condition": {"test": "datum.value == 216", "value": "bold"}, "value": "normal"}, "title": null}},
  "y": {"field": "l", "type": "quantitative", "title": null, "scale": {"domain": [3407.2, 4260.1], "nice": false, "zero": false}, "axis": {"orient": "right", "values": [3450,3500,3550,3600,3650,3700,3750,3800,3850,3900,3950,4000,4050,4100,4150,4200,4250], "labelExpr": "datum.value > 4220 ? '' : format(datum.value/10000, '.4f')", "grid": true, "gridColor": "#343a55", "gridDash": [1,2], "gridWidth": 1, "domain": false, "ticks": false, "labelPadding": 15, "labelFontSize": 18, "labelColor": "#9c6fa9", "labelFont": "Roboto", "labelAlign": "left", "labelBaseline": "middle", "labelOverlap": false, "title": null}},
  "y2": {"field": "h"}}},
{"data": {"name": "c"}, "mark": {"type": "bar", "orient": "vertical", "width": 2.2},
 "encoding": {"x": {"field": "t", "type": "quantitative"}, "y": {"field": "o", "type": "quantitative"}, "y2": {"field": "c"},
  "color": {"condition": {"test": "datum.c >= datum.o", "value": "#38bdb0"}, "value": "#ef5b72"}}},
{"data": {"values": [{"t": 65.3, "t2": 472.3, "p": 3738, "p2": 3760}, {"t": 10.6, "t2": 476.7, "p": 3515, "p2": 3544}]},
 "mark": {"type": "rect", "fill": "#b2dfdb", "fillOpacity": 0.15, "stroke": "#e0e3eb", "strokeWidth": 1.2},
 "encoding": {"x": {"field": "t", "type": "quantitative"}, "x2": {"field": "t2"}, "y": {"field": "p", "type": "quantitative"}, "y2": {"field": "p2"}}},
{"data": {"values": [{"p": 3952}, {"p": 3855}, {"p": 3737}, {"p": 3512}]}, "mark": {"type": "rule", "color": "#2962ff", "strokeWidth": 3, "strokeDash": [15, 18]},
 "encoding": {"y": {"field": "p", "type": "quantitative"}}},
{"data": {"values": [{"p": 3889}]}, "mark": {"type": "rule", "color": "#ffffff", "strokeWidth": 2, "strokeDash": [2, 3]},
 "encoding": {"y": {"field": "p", "type": "quantitative"}}},
{"data": {"values": [{"p": 3674}, {"p": 3606}]}, "mark": {"type": "rule", "color": "#d1d4dc", "strokeWidth": 1, "strokeDash": [6, 5]},
 "encoding": {"y": {"field": "p", "type": "quantitative"}}},
{"data": {"values": [{"t": 59.25, "p": 4213}, {"t": 474.9, "p": 3955}]}, "mark": {"type": "line", "color": "#ecd63c", "strokeWidth": 3},
 "encoding": {"x": {"field": "t", "type": "quantitative"}, "y": {"field": "p", "type": "quantitative"}}},
{"data": {"values": [{"t": 384.96, "p": 3811}, {"t": 447.2, "p": 3874}]}, "mark": {"type": "line", "color": "#ee3f55", "strokeWidth": 3},
 "encoding": {"x": {"field": "t", "type": "quantitative"}, "y": {"field": "p", "type": "quantitative"}}},
{"data": {"values": [{"i": 1, "t": 384.4, "p": 3813}, {"i": 2, "t": 387.1, "p": 3914}, {"i": 3, "t": 398.2, "p": 3826}, {"i": 4, "t": 410.2, "p": 3973}, {"i": 5, "t": 427.3, "p": 3853}, {"i": 6, "t": 441.1, "p": 3944}, {"i": 7, "t": 460.96, "p": 3732.2}]},
 "mark": {"type": "line", "color": "#f5a623", "strokeWidth": 2},
 "encoding": {"x": {"field": "t", "type": "quantitative"}, "y": {"field": "p", "type": "quantitative"}, "order": {"field": "i"}}},
{"data": {"values": [{"i": 1, "t": 458.4, "p": 3739}, {"i": 2, "t": 460.96, "p": 3732.2}, {"i": 3, "t": 462.9, "p": 3739}]},
 "mark": {"type": "line", "color": "#f5a623", "strokeWidth": 2},
 "encoding": {"x": {"field": "t", "type": "quantitative"}, "y": {"field": "p", "type": "quantitative"}, "order": {"field": "i"}}},
{"data": {"values": [{"i": 1, "t": 463.2, "p": 3733.2}, {"i": 2, "t": 466.0, "p": 3760.1}, {"i": 3, "t": 469.2, "p": 3805.3}, {"i": 4, "t": 472.3, "p": 3845.0}, {"i": 5, "t": 481.3, "p": 3738.0}, {"i": 6, "t": 487.0, "p": 3644.7}, {"i": 7, "t": 493.4, "p": 3548.6}, {"i": 8, "t": 499.4, "p": 3563.9}]},
 "mark": {"type": "line", "color": "#ff9f1a", "strokeWidth": 4, "strokeDash": [12, 8]},
 "encoding": {"x": {"field": "t", "type": "quantitative"}, "y": {"field": "p", "type": "quantitative"}, "order": {"field": "i"}}},
{"data": {"values": [{"t": 481.1, "t2": 496.9, "p": 3947, "p2": 3744}, {"t": 530.8, "t2": 542.9, "p": 3849, "p2": 3513}]},
 "mark": {"type": "rect", "fill": "#aaaaaa", "fillOpacity": 0.7},
 "encoding": {"x": {"field": "t", "type": "quantitative"}, "x2": {"field": "t2"}, "y": {"field": "p", "type": "quantitative"}, "y2": {"field": "p2"}}},
{"data": {"values": [{"t": 481.1, "t2": 496.9, "p": 3947}, {"t": 481.1, "t2": 496.9, "p": 3744}, {"t": 530.8, "t2": 542.9, "p": 3849}, {"t": 530.8, "t2": 542.9, "p": 3513}]},
 "mark": {"type": "rule", "color": "#089981", "strokeWidth": 3},
 "encoding": {"x": {"field": "t", "type": "quantitative"}, "x2": {"field": "t2"}, "y": {"field": "p", "type": "quantitative"}}},
{"data": {"values": [{"t": 489.2, "p": 3947, "p2": 3744}, {"t": 537.1, "p": 3849, "p2": 3513}]},
 "mark": {"type": "rule", "color": "#089981", "strokeWidth": 2.5},
 "encoding": {"x": {"field": "t", "type": "quantitative"}, "y": {"field": "p", "type": "quantitative"}, "y2": {"field": "p2"}}},
{"data": {"values": [{"g": "a", "i": 1, "t": 485.0, "p": 3756.9}, {"g": "a", "i": 2, "t": 489.2, "p": 3744.5}, {"g": "a", "i": 3, "t": 493.4, "p": 3756.9}, {"g": "b", "i": 1, "t": 532.6, "p": 3529.3}, {"g": "b", "i": 2, "t": 537.1, "p": 3514.5}, {"g": "b", "i": 3, "t": 541.6, "p": 3529.3}]},
 "mark": {"type": "line", "color": "#089981", "strokeWidth": 3},
 "encoding": {"x": {"field": "t", "type": "quantitative"}, "y": {"field": "p", "type": "quantitative"}, "detail": {"field": "g"}, "order": {"field": "i"}}},
{"data": {"values": [{"t": 457.8, "t2": 519.6, "p": 3729.0, "p2": 3696.9}, {"t": 506.2, "t2": 567.9, "p": 3499.8, "p2": 3467.8}]},
 "mark": {"type": "rect", "fill": "#174a9e", "cornerRadius": 6},
 "encoding": {"x": {"field": "t", "type": "quantitative"}, "x2": {"field": "t2"}, "y": {"field": "p", "type": "quantitative"}, "y2": {"field": "p2"}}},
{"data": {"values": [{"t": 488.7, "p": 3713, "s": "−0.0202 (−5.11%) −202"}, {"t": 537.0, "p": 3483.8, "s": "−0.0334 (−8.67%) −334"}]},
 "mark": {"type": "text", "color": "#ffffff", "fontSize": 17, "font": "Roboto", "align": "center", "baseline": "middle"},
 "encoding": {"x": {"field": "t", "type": "quantitative"}, "y": {"field": "p", "type": "quantitative"}, "text": {"field": "s"}}},
{"data": {"values": [{"t": 5.58, "p": 4237.0, "s": "XRP / TetherUS, 1h, BINANCE"}]},
 "mark": {"type": "text", "color": "#07090d", "fontSize": 18, "fontWeight": "bold", "font": "Roboto", "align": "left", "baseline": "middle"},
 "encoding": {"x": {"field": "t", "type": "quantitative"}, "y": {"field": "p", "type": "quantitative"}, "text": {"field": "s"}}},
{"data": {"values": [{"t": 609.75, "p": 4239.9, "s": "USDT"}]},
 "mark": {"type": "text", "color": "#9c6fa9", "fontSize": 18, "font": "Roboto", "align": "left", "baseline": "middle"},
 "encoding": {"x": {"field": "t", "type": "quantitative"}, "y": {"field": "p", "type": "quantitative"}, "text": {"field": "s"}}},
{"data": {"values": [{"p": 3952, "s": "0.3952"}, {"p": 3737, "s": "0.3737"}, {"p": 3512, "s": "0.3512"}]},
 "mark": {"type": "bar", "orient": "horizontal", "height": 26, "color": "#2962ff", "cornerRadiusTopRight": 3, "cornerRadiusBottomRight": 3},
 "encoding": {"x": {"datum": 604.8}, "x2": {"datum": 630.2}, "y": {"field": "p", "type": "quantitative"}}},
{"data": {"values": [{"p": 3855, "s": "0.3855"}]},
 "mark": {"type": "bar", "orient": "horizontal", "height": 26, "yOffset": 36.7, "color": "#2962ff", "cornerRadiusTopRight": 3, "cornerRadiusBottomRight": 3},
 "encoding": {"x": {"datum": 604.8}, "x2": {"datum": 630.2}, "y": {"field": "p", "type": "quantitative"}}},
{"data": {"values": [{"p": 3889, "s": "0.3889"}]},
 "mark": {"type": "bar", "orient": "horizontal", "height": 26, "color": "#f9dc35", "cornerRadiusTopRight": 3},
 "encoding": {"x": {"datum": 604.8}, "x2": {"datum": 630.2}, "y": {"field": "p", "type": "quantitative"}}},
{"data": {"values": [{"p": 3889}]},
 "mark": {"type": "bar", "orient": "horizontal", "height": 45.4, "yOffset": 35.7, "color": "#ffffff"},
 "encoding": {"x": {"datum": 604.8}, "x2": {"datum": 630.2}, "y": {"field": "p", "type": "quantitative"}}},
{"data": {"values": [{"p": 3674, "s": "0.3674"}, {"p": 3606, "s": "0.3606"}]},
 "mark": {"type": "bar", "orient": "horizontal", "height": 26, "color": "#c3dcf7", "cornerRadiusTopRight": 3, "cornerRadiusBottomRight": 3},
 "encoding": {"x": {"datum": 604.8}, "x2": {"datum": 630.2}, "y": {"field": "p", "type": "quantitative"}}},
{"data": {"values": [{"p": 3952, "s": "0.3952"}, {"p": 3737, "s": "0.3737"}, {"p": 3512, "s": "0.3512"}]},
 "mark": {"type": "text", "align": "left", "baseline": "middle", "fontSize": 18, "color": "#ffffff", "font": "Roboto"},
 "encoding": {"x": {"datum": 609.75}, "y": {"field": "p", "type": "quantitative"}, "text": {"field": "s"}}},
{"data": {"values": [{"p": 3855, "s": "0.3855"}]},
 "mark": {"type": "text", "align": "left", "baseline": "middle", "fontSize": 18, "color": "#ffffff", "font": "Roboto", "yOffset": 36.7},
 "encoding": {"x": {"datum": 609.75}, "y": {"field": "p", "type": "quantitative"}, "text": {"field": "s"}}},
{"data": {"values": [{"p": 3889, "s": "0.3889"}, {"p": 3674, "s": "0.3674"}, {"p": 3606, "s": "0.3606"}]},
 "mark": {"type": "text", "align": "left", "baseline": "middle", "fontSize": 18, "color": "#131722", "font": "Roboto"},
 "encoding": {"x": {"datum": 609.75}, "y": {"field": "p", "type": "quantitative"}, "text": {"field": "s"}}},
{"data": {"values": [{"p": 3889, "s": "0.3882"}]},
 "mark": {"type": "text", "align": "left", "baseline": "middle", "fontSize": 18, "color": "#131722", "font": "Roboto", "yOffset": 27},
 "encoding": {"x": {"datum": 609.75}, "y": {"field": "p", "type": "quantitative"}, "text": {"field": "s"}}},
{"data": {"values": [{"p": 3889, "s": "49:15"}]},
 "mark": {"type": "text", "align": "left", "baseline": "middle", "fontSize": 18, "color": "#50535e", "font": "Roboto", "yOffset": 47},
 "encoding": {"x": {"datum": 609.75}, "y": {"field": "p", "type": "quantitative"}, "text": {"field": "s"}}},
{"data": {"values": [{"a": 1}]}, "mark": {"type": "rule", "color": "#a3a6af", "strokeWidth": 1},
 "encoding": {"x": {"datum": 604.8}, "y": {"datum": 4260.1}, "y2": {"datum": 3366.8}}},
{"data": {"values": [{"a": 1}]}, "mark": {"type": "rule", "color": "#a3a6af", "strokeWidth": 1},
 "encoding": {"x": {"datum": 1.77}, "x2": {"datum": 637.2}, "y": {"datum": 3407.2}}}
]
}
]
}
